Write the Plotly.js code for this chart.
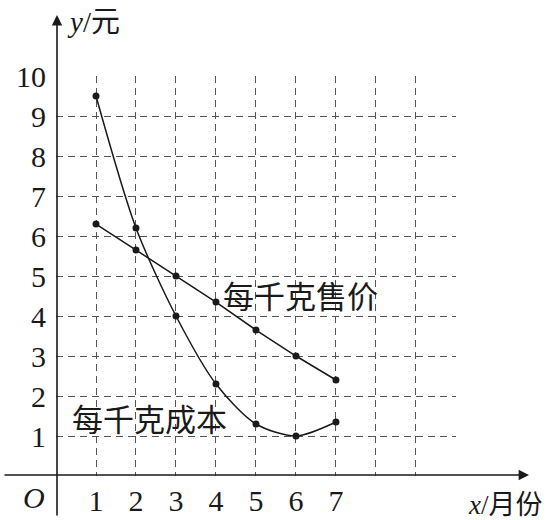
<!DOCTYPE html>
<html>
<head>
<meta charset="utf-8">
<script src="https://cdn.plot.ly/plotly-3.0.1.min.js"></script>
<style>html,body{margin:0;padding:0;background:#fff;}#chart{width:559px;height:520px;}</style>
</head>
<body>
<div id="chart"></div>
<script>
// ---- data ----
const months = [1, 2, 3, 4, 5, 6, 7];
const costPerKg = [9.5, 6.2, 4.0, 2.3, 1.3, 1.0, 1.35];      // 每千克成本
const pricePerKg = [6.3, 5.65, 5.0, 4.35, 3.65, 3.0, 2.4];   // 每千克售价
const xTickVals = [1, 2, 3, 4, 5, 6, 7, 8, 9, 10];
const xTickText = ['1', '2', '3', '4', '5', '6', '7', '', '', ''];
const yTickVals = [1, 2, 3, 4, 5, 6, 7, 8, 9, 10];
const yTickText = ['1', '2', '3', '4', '5', '6', '7', '8', '9', '10'];
const costLabel = '每千克成本';
const priceLabel = '每千克售价';
const xTitle = '<i>x</i>/月份';
const yTitle = '<i>y</i>/元';
const originLabel = '<i>O</i>';

const ink = '#1a1a1a';
const serif = 'Liberation Serif, DejaVu Serif, serif';
const cjk = 'Noto Sans CJK SC, Noto Sans, sans-serif';

const traces = [
  {
    x: months, y: pricePerKg, type: 'scatter', mode: 'lines+markers',
    line: {color: ink, width: 1.5, shape: 'linear'},
    marker: {color: ink, size: 7},
    hoverinfo: 'skip', showlegend: false
  },
  {
    x: months, y: costPerKg, type: 'scatter', mode: 'lines+markers',
    line: {color: ink, width: 1.5, shape: 'spline', smoothing: 0.8},
    marker: {color: ink, size: 7},
    hoverinfo: 'skip', showlegend: false
  }
];

const L = 56, T = 76, W = 400, H = 400;
const px2paperX = p => (p - L) / W;
const px2paperY = p => (T + H - p) / H;

const layout = {
  width: 559, height: 520,
  margin: {l: L, r: 559 - L - W, t: T, b: 520 - T - H, pad: 0},
  paper_bgcolor: '#fff', plot_bgcolor: '#fff',
  showlegend: false,
  xaxis: {
    range: [0, 10.001], tickmode: 'array', tickvals: xTickVals, ticktext: xTickText,
    showgrid: true, gridcolor: '#555', gridwidth: 1, griddash: '7px,5px',
    zeroline: false, showline: false, ticks: '', ticklabelstandoff: 4,
    tickfont: {family: serif, size: 30, color: ink}, fixedrange: true
  },
  yaxis: {
    range: [0, 10.001], tickmode: 'array', tickvals: yTickVals, ticktext: yTickText,
    showgrid: true, gridcolor: '#555', gridwidth: 1, griddash: '7px,5px',
    zeroline: false, showline: false, ticks: '', ticklabelstandoff: 9,
    tickfont: {family: serif, size: 30, color: ink}, fixedrange: true
  },
  annotations: [
    // y axis with arrow
    {xref: 'paper', yref: 'paper', x: px2paperX(57), y: px2paperY(15), ax: 0, ay: 502,
     axref: 'pixel', ayref: 'pixel', showarrow: true, arrowhead: 2, arrowsize: 1.3,
     arrowwidth: 1.6, arrowcolor: ink, text: '', standoff: 0},
    // x axis with arrow
    {xref: 'paper', yref: 'paper', x: px2paperX(529), y: px2paperY(475), ax: -526, ay: 0,
     axref: 'pixel', ayref: 'pixel', showarrow: true, arrowhead: 2, arrowsize: 1.3,
     arrowwidth: 1.6, arrowcolor: ink, text: '', standoff: 0},
    {xref: 'paper', yref: 'paper', x: px2paperX(65), y: px2paperY(22), xanchor: 'left', yanchor: 'middle',
     showarrow: false, text: yTitle, font: {family: serif + ',' + cjk, size: 29, color: ink}},
    {xref: 'paper', yref: 'paper', x: px2paperX(466), y: px2paperY(505), xanchor: 'left', yanchor: 'middle',
     showarrow: false, text: xTitle, font: {family: serif + ',' + cjk, size: 27, color: ink}},
    {xref: 'paper', yref: 'paper', x: px2paperX(34), y: px2paperY(497), xanchor: 'center', yanchor: 'middle',
     showarrow: false, text: originLabel, font: {family: serif, size: 30, color: ink}},
    {xref: 'x', yref: 'y', x: 6.12, y: 4.55, xanchor: 'center', yanchor: 'middle',
     showarrow: false, text: priceLabel, font: {family: cjk, size: 31, color: ink}},
    {xref: 'x', yref: 'y', x: 2.35, y: 1.46, xanchor: 'center', yanchor: 'middle',
     showarrow: false, text: costLabel, font: {family: cjk, size: 31, color: ink}}
  ]
};

Plotly.newPlot('chart', traces, layout, {staticPlot: true, displayModeBar: false});
</script>
</body>
</html>
